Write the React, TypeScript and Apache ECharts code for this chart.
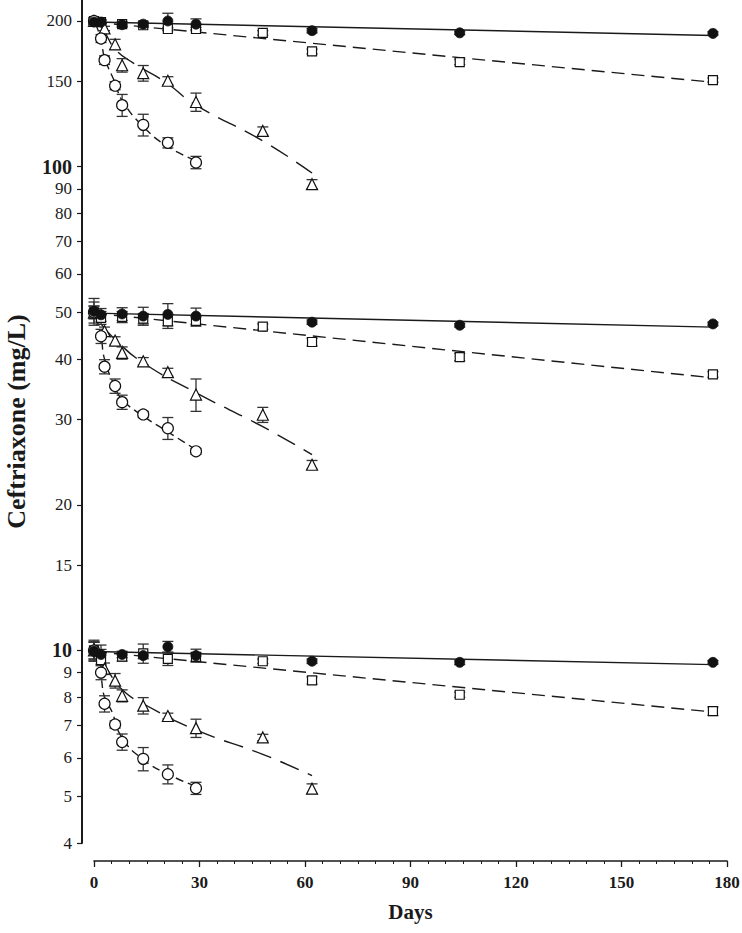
import React, { useEffect, useRef } from "react";
import * as echarts from "echarts";

// ---- axis ticks ----
const xTickInterval = 30;
const yTickValues = [4, 5, 6, 7, 8, 9, 10, 15, 20, 30, 40, 50, 60, 70, 80, 90, 100, 150, 200];
const boldTicks = [10, 100];

// ---- sampling days per marker type ----
const daysCircle = [0, 2, 3, 6, 8, 14, 21, 29];
const daysTriangle = [0, 3, 6, 8, 14, 21, 29, 48, 62];
const daysSquare = [0, 2, 8, 14, 21, 29, 48, 62, 104, 176];
const daysFilled = [0, 2, 8, 14, 21, 29, 62, 104, 176];

// ---- 200 mg/L group ----
const circle200 = [200, 184, 166, 147, 134, 122, 112, 102];
const circleErr200 = [3, 3.5, 3.4, 2.8, 7, 6.3, 2.7, 3];
const triangle200 = [200, 193, 179, 162, 156, 150.5, 136, 118.5, 92];
const triangleErr200 = [3, 2, 4.3, 5.2, 5.8, 2.9, 5.9, 2.3, 2];
const square200 = [200, 199, 197, 196, 192.5, 192.5, 189, 173, 164.5, 151];
const squareErr200 = [3, 2, 2, 2, 1.5, 1.5, 2, 2, 2, 1.5];
const filled200 = [199, 199, 196.5, 197, 200, 197, 191, 189, 188.5];
const filledErr200 = [2, 2, 2.5, 2, 7.5, 5, 2, 1.5, 1.5];

// ---- 50 mg/L group ----
const circle50 = [50, 44.6, 38.6, 35.2, 32.6, 30.75, 28.8, 25.8];
const circleErr50 = [1.5, 1.5, 1.3, 1.2, 1.1, 0.45, 1.5, 0.35];
const triangle50 = [50, 45.7, 43.7, 41.2, 39.6, 37.6, 33.8, 30.7, 24.2];
const triangleErr50 = [1.5, 0.9, 0.8, 1.2, 0.7, 0.7, 2.6, 1.1, 0.5];
const square50 = [50, 48.7, 48.9, 48.5, 47.9, 48, 46.7, 43.4, 40.4, 37.2];
const squareErr50 = [2.5, 1.5, 1.3, 1.2, 1.6, 1.2, 0.6, 0.8, 0.7, 0.5];
const filled50 = [50.2, 49.4, 49.6, 49.1, 49.5, 49.1, 47.7, 47.0, 47.3];
const filledErr50 = [3.2, 1.5, 1.5, 2.1, 2.6, 1.9, 0.5, 0.4, 0.4];

// ---- 10 mg/L group ----
const circle10 = [10, 9.0, 7.76, 7.03, 6.47, 5.97, 5.55, 5.19];
const circleErr10 = [0.4, 0.3, 0.3, 0.12, 0.25, 0.33, 0.25, 0.15];
const triangle10 = [10, 9.17, 8.66, 8.06, 7.69, 7.32, 6.91, 6.61, 5.18];
const triangleErr10 = [0.4, 0.25, 0.3, 0.23, 0.3, 0.1, 0.3, 0.1, 0.12];
const square10 = [10, 9.55, 9.71, 9.86, 9.61, 9.7, 9.5, 8.67, 8.1, 7.49];
const squareErr10 = [0.5, 0.5, 0.2, 0.45, 0.3, 0.2, 0.1, 0.15, 0.1, 0.15];
const filled10 = [9.97, 9.81, 9.81, 9.76, 10.18, 9.76, 9.5, 9.45, 9.45];
const filledErr10 = [0.45, 0.45, 0.15, 0.15, 0.26, 0.3, 0.1, 0.1, 0.08];

// ---- fitted curves [day, mg/L] ----
const fitSolid200 = [[0, 199], [176, 186.7]];
const fitSolid50 = [[0, 49.8], [176, 46.6]];
const fitSolid10 = [[0, 9.95], [176, 9.35]];
const fitSquare200 = [[0, 199], [176, 149.4]];
const fitSquare50 = [[0, 49.8], [176, 36.6]];
const fitSquare10 = [[0, 9.95], [176, 7.46]];
const fitTriangle200 = [[2, 194], [3, 190], [6, 175], [11, 164], [20, 150], [29, 134], [48, 113], [62, 97]];
const fitTriangle50 = [[2, 47.3], [6, 43.9], [14, 39.3], [29, 34.1], [48, 29], [62, 25.4]];
const fitTriangle10 = [[2, 9.5], [3, 9.3], [8, 8.3], [14, 7.76], [29, 6.85], [48, 6.1], [62, 5.51]];
const fitCircle200 = [[0.5, 197], [2, 183], [3, 168], [6, 149], [8, 137], [14, 121], [21, 110], [29, 103]];
const fitCircle50 = [[0.5, 49], [2, 44.5], [3, 40], [6, 35], [8, 33], [14, 30.5], [21, 28.3], [29, 26]];
const fitCircle10 = [[0.5, 9.8], [2, 8.8], [3, 8.0], [5, 7.5], [8, 6.6], [14, 5.95], [21, 5.55], [29, 5.24]];

const INK = "#1a1a1a";
const SERIF = "'Liberation Serif', 'Times New Roman', serif";

function pts(days: number[], vals: number[]) {
  return days.map((d, i) => [d, vals[i]]);
}
function errs(days: number[], vals: number[], e: number[]) {
  return days.map((d, i) => [d, vals[i] - e[i], vals[i] + e[i]]);
}

function fitLine(data: number[][], dash: number[] | "solid", smooth: boolean) {
  return {
    type: "line",
    data,
    smooth,
    showSymbol: false,
    symbol: "none",
    z: 2,
    lineStyle: { color: INK, width: 1.4, type: dash },
    silent: true,
  };
}

function errorSeries(data: number[][]) {
  return {
    type: "custom",
    z: 3,
    silent: true,
    data,
    encode: { x: 0, y: [1, 2] },
    renderItem: (_p: any, api: any) => {
      const x = api.value(0);
      const lo = api.coord([x, api.value(1)]);
      const hi = api.coord([x, api.value(2)]);
      const w = 5.5;
      const style = { stroke: "#333", lineWidth: 1.3, fill: "none" };
      return {
        type: "group",
        children: [
          { type: "line", shape: { x1: lo[0], y1: lo[1], x2: hi[0], y2: hi[1] }, style },
          { type: "line", shape: { x1: lo[0] - w, y1: lo[1], x2: lo[0] + w, y2: lo[1] }, style },
          { type: "line", shape: { x1: hi[0] - w, y1: hi[1], x2: hi[0] + w, y2: hi[1] }, style },
        ],
      };
    },
  };
}

function markers(data: number[][], symbol: string, size: number, filled: boolean) {
  return {
    type: "scatter",
    data,
    symbol,
    symbolSize: size,
    z: 4,
    silent: true,
    itemStyle: {
      color: filled ? "#111" : "#fff",
      borderColor: "#111",
      borderWidth: filled ? 0.8 : 1.2,
      opacity: 1,
    },
  };
}

export default function App() {
  const ref = useRef<HTMLDivElement>(null);
  useEffect(() => {
    document.body.style.margin = "0";
    if (!ref.current) return;
    const chart = echarts.init(ref.current, null, { renderer: "svg" });

    const groups = [
      { c: circle200, ce: circleErr200, t: triangle200, te: triangleErr200, s: square200, se: squareErr200, f: filled200, fe: filledErr200 },
      { c: circle50, ce: circleErr50, t: triangle50, te: triangleErr50, s: square50, se: squareErr50, f: filled50, fe: filledErr50 },
      { c: circle10, ce: circleErr10, t: triangle10, te: triangleErr10, s: square10, se: squareErr10, f: filled10, fe: filledErr10 },
    ];

    const series: any[] = [];
    [fitSolid200, fitSolid50, fitSolid10].forEach((d) => series.push(fitLine(d, "solid", false)));
    [fitSquare200, fitSquare50, fitSquare10].forEach((d) => series.push(fitLine(d, [13, 7], false)));
    [fitTriangle200, fitTriangle50, fitTriangle10].forEach((d) => series.push(fitLine(d, [20, 10], true)));
    [fitCircle200, fitCircle50, fitCircle10].forEach((d) => series.push(fitLine(d, [8, 5], true)));

    groups.forEach((g) => {
      series.push(errorSeries(errs(daysSquare, g.s, g.se)));
      series.push(errorSeries(errs(daysTriangle, g.t, g.te)));
      series.push(errorSeries(errs(daysCircle, g.c, g.ce)));
      series.push(errorSeries(errs(daysFilled, g.f, g.fe)));
    });
    groups.forEach((g) => {
      series.push(markers(pts(daysSquare, g.s), "rect", 9, false));
      series.push(markers(pts(daysTriangle, g.t), "triangle", 11, false));
      series.push(markers(pts(daysCircle, g.c), "circle", 11, false));
      series.push(markers(pts(daysFilled, g.f), "circle", 10, true));
    });

    chart.setOption({
      animation: false,
      backgroundColor: "#fff",
      grid: { left: 94, right: 15, top: 0, bottom: 90, containLabel: false, outerBoundsMode: "none" },
      xAxis: {
        type: "value",
        min: 0,
        max: 180,
        interval: xTickInterval,
        offset: 18,
        axisLine: { show: true, onZero: false, lineStyle: { color: INK, width: 1.6 } },
        axisTick: { show: true, inside: false, length: 6, lineStyle: { color: INK, width: 1.3 } },
        minorTick: { show: true, splitNumber: 6, length: 3, lineStyle: { color: INK, width: 1 } },
        splitLine: { show: false },
        minorSplitLine: { show: false },
        axisLabel: { fontFamily: SERIF, fontWeight: "bold", fontSize: 17, color: INK, margin: 13 },
        name: "Days",
        nameLocation: "middle",
        nameGap: 40,
        nameTextStyle: { fontFamily: SERIF, fontWeight: "bold", fontSize: 21, color: INK },
      },
      yAxis: {
        type: "log",
        logBase: 10,
        min: 4,
        max: 221,
        offset: 12,
        axisLine: { show: true, onZero: false, lineStyle: { color: INK, width: 2 } },
        axisTick: { show: true, inside: false, length: 5, customValues: yTickValues, lineStyle: { color: INK, width: 1.2 } },
        minorTick: { show: false },
        splitLine: { show: false },
        axisLabel: {
          customValues: yTickValues,
          margin: 10,
          fontFamily: SERIF,
          fontSize: 17,
          color: INK,
          formatter: (v: number) => {
            const r = Math.round(v);
            return boldTicks.includes(r) ? `{b|${r}}` : `${r}`;
          },
          rich: { b: { fontFamily: SERIF, fontWeight: "bold", fontSize: 20, color: INK } },
        },
        name: "Ceftriaxone (mg/L)",
        nameLocation: "middle",
        nameGap: 53,
        nameTextStyle: { fontFamily: SERIF, fontWeight: "bold", fontSize: 26, color: INK },
      },
      series,
    });
    return () => chart.dispose();
  }, []);
  return <div ref={ref} style={{ width: 742, height: 933 }} />;
}
